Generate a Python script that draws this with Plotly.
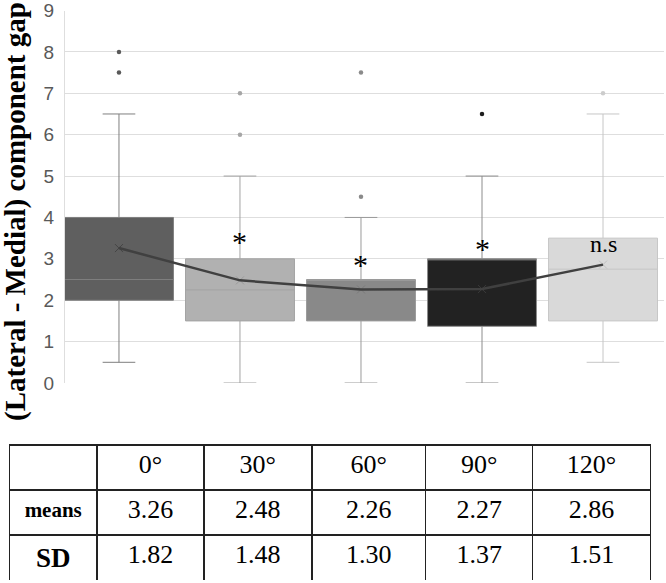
import plotly.graph_objects as go

# ---- data ----
categories = ["0°", "30°", "60°", "90°", "120°"]
q1 = [2.0, 1.5, 1.5, 1.37, 1.5]
median = [2.5, 2.25, 2.5, 3.0, 2.75]
q3 = [4.0, 3.0, 2.5, 3.0, 3.5]
lower_whisker = [0.5, 0.0, 0.0, 0.0, 0.5]
upper_whisker = [6.5, 5.0, 4.0, 5.0, 6.5]
outliers = [[8.0, 7.5], [7.0, 6.0], [7.5, 4.5], [6.5], [7.0]]
means = [3.26, 2.48, 2.26, 2.27, 2.86]
sds = [1.82, 1.48, 1.30, 1.37, 1.51]
significance = ["", "*", "*", "*", "n.s"]
sig_y = [None, 3.43, 2.87, 3.25, 3.35]
y_ticks = [0, 1, 2, 3, 4, 5, 6, 7, 8, 9]
row_labels = ["means", "SD"]

# ---- styles ----
fills = ["#5f5f5f", "#b1b1b1", "#898989", "#222222", "#d9d9d9"]
edges = ["#7f7f7f", "#a3a3a3", "#9a9a9a", "#8c8c8c", "#c6c6c6"]
dot_colors = ["#595959", "#a6a6a6", "#8a8a8a", "#1e1e1e", "#cccccc"]
mean_marker_colors = ["#454545", "#9a9a9a", "#7a7a7a", "#3a3a3a", "#c0c0c0"]

W, H = 666, 583
fig = go.Figure()

for i in range(len(categories)):
    fig.add_trace(go.Box(
        x=[i], q1=[q1[i]], median=[median[i]], q3=[q3[i]],
        lowerfence=[lower_whisker[i]], upperfence=[upper_whisker[i]],
        width=0.9, whiskerwidth=0.3,
        fillcolor=fills[i], line=dict(color=edges[i], width=1),
        boxpoints=False, showlegend=False, hoverinfo="skip",
    ))
    fig.add_trace(go.Scatter(
        x=[i] * len(outliers[i]), y=outliers[i], mode="markers",
        marker=dict(color=dot_colors[i], size=4.5),
        showlegend=False, hoverinfo="skip",
    ))

x_pos = list(range(len(categories)))
fig.add_trace(go.Scatter(
    x=x_pos, y=means, mode="markers",
    marker=dict(symbol="x-thin", size=8,
                line=dict(color=mean_marker_colors, width=1)),
    showlegend=False, hoverinfo="skip",
))
fig.add_trace(go.Scatter(
    x=x_pos, y=means, mode="lines",
    line=dict(color="#404040", width=2.5),
    showlegend=False, hoverinfo="skip",
))

for i, s in enumerate(significance):
    if s:
        fig.add_annotation(
            x=i, y=sig_y[i], xref="x", yref="y", text=s, showarrow=False,
            font=dict(family="Liberation Serif", size=30 if s == "*" else 24,
                      color="#000000"),
            xanchor="center", yanchor="middle",
        )

# y-axis title
fig.add_annotation(
    x=15 / W, y=1 - 212 / H, xref="paper", yref="paper",
    text="<b>(Lateral - Medial) component gap</b>", textangle=-90,
    showarrow=False, xanchor="center", yanchor="middle",
    font=dict(family="Liberation Serif", size=29, color="#000000"),
)

# table: header + means row, then the SD row
col_w = [87.5, 107, 108, 114, 107, 118]
tbl_x = [9.5 / W, 651 / W]
line_style = dict(color="#222222", width=1.5)
num_font = dict(family="Liberation Serif", color="#000000")

fig.add_trace(go.Table(
    domain=dict(x=tbl_x, y=[1 - 535 / H, 1 - 445 / H]),
    columnwidth=col_w,
    header=dict(values=[""] + categories, height=45, align="center",
                fill=dict(color="white"), line=line_style,
                font=dict(size=26, **num_font)),
    cells=dict(values=[["<b>" + row_labels[0] + "</b>"]] + [[f"{m:.2f}"] for m in means],
               height=45, align="center",
               fill=dict(color="white"), line=line_style,
               font=dict(size=[21, 26, 26, 26, 26, 26], **num_font)),
))
fig.add_trace(go.Table(
    domain=dict(x=tbl_x, y=[1 - 580 / H, 1 - 535 / H]),
    columnwidth=col_w,
    header=dict(values=["<b>" + row_labels[1] + "</b>"] + [f"{s:.2f}" for s in sds],
                height=45, align="center",
                fill=dict(color="white"), line=line_style,
                font=dict(size=[27, 26, 26, 26, 26, 26], **num_font)),
    cells=dict(values=[]),
))

fig.update_layout(
    width=W, height=H,
    margin=dict(l=0, r=0, t=0, b=0),
    paper_bgcolor="white", plot_bgcolor="white",
    boxmode="overlay",
    xaxis=dict(domain=[65 / W, 664 / W], range=[-0.446, 4.504],
               showticklabels=False, showgrid=False, zeroline=False,
               showline=False, fixedrange=True),
    yaxis=dict(domain=[1 - 383 / H, 1 - 10.5 / H], range=[0, 9],
               tickvals=y_ticks, showgrid=True, gridcolor="#dedede",
               gridwidth=1, zeroline=False, showline=True,
               linecolor="#dedede", linewidth=1, ticks="",
               ticklabelstandoff=6, automargin=False,
               ticklabeloverflow="allow",
               tickfont=dict(family="Liberation Sans", size=19, color="#595959")),
)

fig.write_html("out.html",
               config={"displayModeBar": False},
               post_script="document.body.style.margin='0';document.body.style.overflow='hidden';")
